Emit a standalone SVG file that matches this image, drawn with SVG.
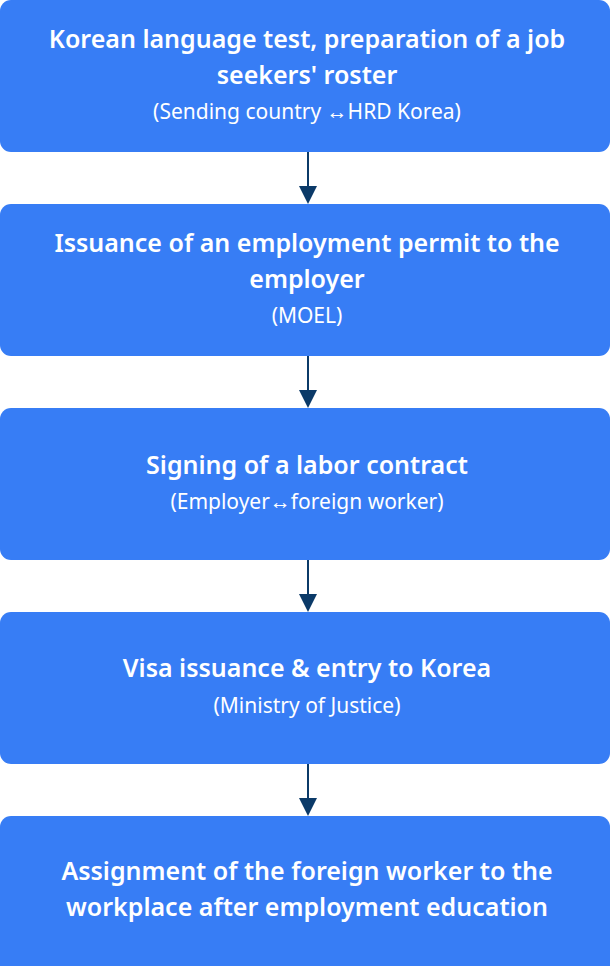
<svg xmlns="http://www.w3.org/2000/svg" width="610" height="966" viewBox="0 0 610 966">
<defs>
<style>
.box{fill:#377df5}
.t{font-family:"Noto Sans","Open Sans",sans-serif;font-size:25px;font-weight:600;fill:#fff;text-anchor:middle}
.s{font-family:"Noto Sans","Open Sans",sans-serif;font-size:21px;fill:#fff;text-anchor:middle}
.c{stroke:#0b3a68;stroke-width:2;fill:none}
.h{fill:#0b3a68}
</style>
</defs>
<g id="connectors">
<line class="c" x1="308" y1="152" x2="308" y2="186"/><path class="h" d="M299,186 L317,186 L308,204 Z"/>
<line class="c" x1="308" y1="356" x2="308" y2="390"/><path class="h" d="M299,390 L317,390 L308,408 Z"/>
<line class="c" x1="308" y1="560" x2="308" y2="594"/><path class="h" d="M299,594 L317,594 L308,612 Z"/>
<line class="c" x1="308" y1="764" x2="308" y2="798"/><path class="h" d="M299,798 L317,798 L308,816 Z"/>
</g>
<g id="node1">
<rect class="box" x="0" y="0" width="610" height="152" rx="11"/>
<text class="t" x="307" y="48">Korean language test, preparation of a job</text>
<text class="t" x="307" y="84">seekers' roster</text>
<text class="s" x="307" y="119">(Sending country ↔HRD Korea)</text>
</g>
<g id="node2">
<rect class="box" x="0" y="204" width="610" height="152" rx="11"/>
<text class="t" x="307" y="252">Issuance of an employment permit to the</text>
<text class="t" x="307" y="288">employer</text>
<text class="s" x="307" y="323">(MOEL)</text>
</g>
<g id="node3">
<rect class="box" x="0" y="408" width="610" height="152" rx="11"/>
<text class="t" x="307" y="474">Signing of a labor contract</text>
<text class="s" x="307" y="509">(Employer↔foreign worker)</text>
</g>
<g id="node4">
<rect class="box" x="0" y="612" width="610" height="152" rx="11"/>
<text class="t" x="307" y="677">Visa issuance &amp; entry to Korea</text>
<text class="s" x="307" y="713">(Ministry of Justice)</text>
</g>
<g id="node5">
<rect class="box" x="0" y="816" width="610" height="162" rx="11"/>
<text class="t" x="307" y="880">Assignment of the foreign worker to the</text>
<text class="t" x="307" y="916">workplace after employment education</text>
</g>
</svg>
